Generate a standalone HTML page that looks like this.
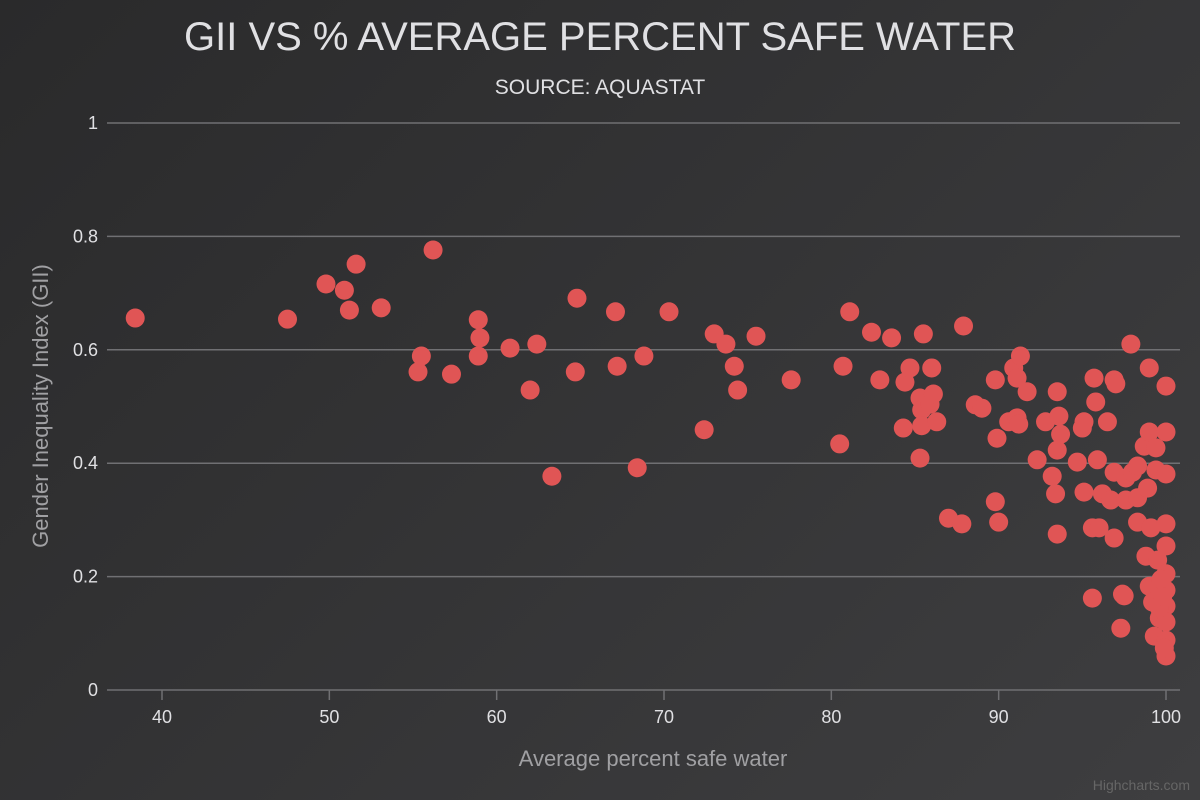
<!DOCTYPE html>
<html><head><meta charset="utf-8"><style>
html,body{margin:0;padding:0}
body{width:1200px;height:800px;background:linear-gradient(135deg,#2a2a2b,#3e3e40);font-family:"Liberation Sans",sans-serif;overflow:hidden}
svg{display:block}
</style></head><body>
<svg id="chart" width="1200" height="800" xmlns="http://www.w3.org/2000/svg">
<text x="600" y="50" text-anchor="middle" fill="#E0E0E3" font-size="40">GII VS % AVERAGE PERCENT SAFE WATER</text>
<text x="600" y="94" text-anchor="middle" fill="#E0E0E3" font-size="21">SOURCE: AQUASTAT</text>
<g id="grid"></g><g id="xaxis"></g><g id="yaxis"></g><g id="points"></g>
<text x="653" y="766" text-anchor="middle" fill="#A0A0A3" font-size="22">Average percent safe water</text>
<text transform="translate(48,406) rotate(-90)" text-anchor="middle" fill="#A0A0A3" font-size="22">Gender Inequality Index (GII)</text>
<text x="1190" y="790" text-anchor="end" fill="#666" font-size="14">Highcharts.com</text>
</svg>
<script>
const xTicks=[40,50,60,70,80,90,100];
const yTicks=[0,0.2,0.4,0.6,0.8,1];
const yTickLabels=["0","0.2","0.4","0.6","0.8","1"];
const waterValues=[38.4,47.5,49.8,50.9,51.2,51.6,53.1,55.3,55.5,56.2,57.3,58.9,59.0,58.9,60.8,62.0,62.4,63.3,64.7,64.8,67.1,67.2,68.4,68.8,70.3,72.4,73.0,73.7,74.2,74.4,75.5,77.6,80.5,80.7,81.1,82.4,82.9,83.6,84.4,84.7,84.3,85.3,85.5,85.4,85.3,85.4,85.9,86.0,86.1,86.3,87.0,87.8,87.9,88.6,89.0,89.8,89.8,89.9,90.0,90.6,90.9,91.1,91.1,91.3,91.2,91.7,92.3,92.8,93.2,93.4,93.5,93.5,93.5,93.6,93.7,94.7,95.0,95.1,95.1,95.6,95.6,95.7,95.8,95.9,96.0,96.2,96.5,96.7,96.9,96.9,96.9,97.0,97.3,97.4,97.5,97.6,97.6,97.9,98.0,98.3,98.3,98.3,98.7,98.8,98.9,99.0,99.1,99.0,99.0,99.2,99.3,99.4,99.4,99.5,99.6,100,100,100,100,100,100,100,100,100,100,100,99.9,99.6,99.7,99.8];
const giiValues=[0.656,0.654,0.716,0.705,0.670,0.751,0.674,0.561,0.589,0.776,0.557,0.653,0.621,0.589,0.603,0.529,0.610,0.377,0.561,0.691,0.667,0.571,0.392,0.589,0.667,0.459,0.628,0.610,0.571,0.529,0.624,0.547,0.434,0.571,0.667,0.631,0.547,0.621,0.543,0.568,0.462,0.515,0.628,0.494,0.409,0.466,0.504,0.568,0.522,0.473,0.303,0.293,0.642,0.503,0.497,0.547,0.332,0.444,0.296,0.473,0.568,0.480,0.550,0.589,0.469,0.526,0.406,0.473,0.377,0.346,0.526,0.275,0.423,0.483,0.451,0.402,0.462,0.473,0.349,0.162,0.286,0.550,0.508,0.406,0.286,0.346,0.473,0.335,0.268,0.384,0.547,0.540,0.109,0.169,0.166,0.335,0.374,0.610,0.384,0.296,0.339,0.395,0.430,0.236,0.356,0.455,0.286,0.568,0.183,0.155,0.095,0.388,0.427,0.229,0.127,0.293,0.536,0.455,0.381,0.254,0.205,0.176,0.148,0.120,0.088,0.060,0.074,0.145,0.195,0.165];
const L=107,R=1180,T=123,B=690;
const xs=v=>162+(v-40)*(1166-162)/60;
const ys=v=>B-v*(B-T);
const NS="http://www.w3.org/2000/svg";
function mk(tag,attrs,parent){const e=document.createElementNS(NS,tag);for(const k in attrs)e.setAttribute(k,attrs[k]);document.getElementById(parent).appendChild(e);return e;}
yTicks.forEach((t,i)=>{
  if(t>0){const g=mk('line',{x1:L,x2:R,y1:ys(t),y2:ys(t),stroke:'#707073','stroke-width':1.5},'grid');
  
  }
  const lb=mk('text',{x:98,y:ys(t)+6,'text-anchor':'end',fill:'#E0E0E3','font-size':18},'yaxis');
  lb.textContent=yTickLabels[i];
  
  
});
const ax=mk('line',{x1:L,x2:R,y1:B,y2:B,stroke:'#707073','stroke-width':1.5},'xaxis');


xTicks.forEach(t=>{
  const tk=mk('line',{x1:xs(t),x2:xs(t),y1:B,y2:B+10,stroke:'#707073','stroke-width':1.5},'xaxis');
  
  
  const lb=mk('text',{x:xs(t),y:B+33,'text-anchor':'middle',fill:'#E0E0E3','font-size':18},'xaxis');
  lb.textContent=t;
  
  
});
waterValues.forEach((w,i)=>{
  const c=mk('circle',{cx:xs(w),cy:ys(giiValues[i]),r:9.5,fill:'#e05555'},'points');
  
  
});
</script>
</body></html>
